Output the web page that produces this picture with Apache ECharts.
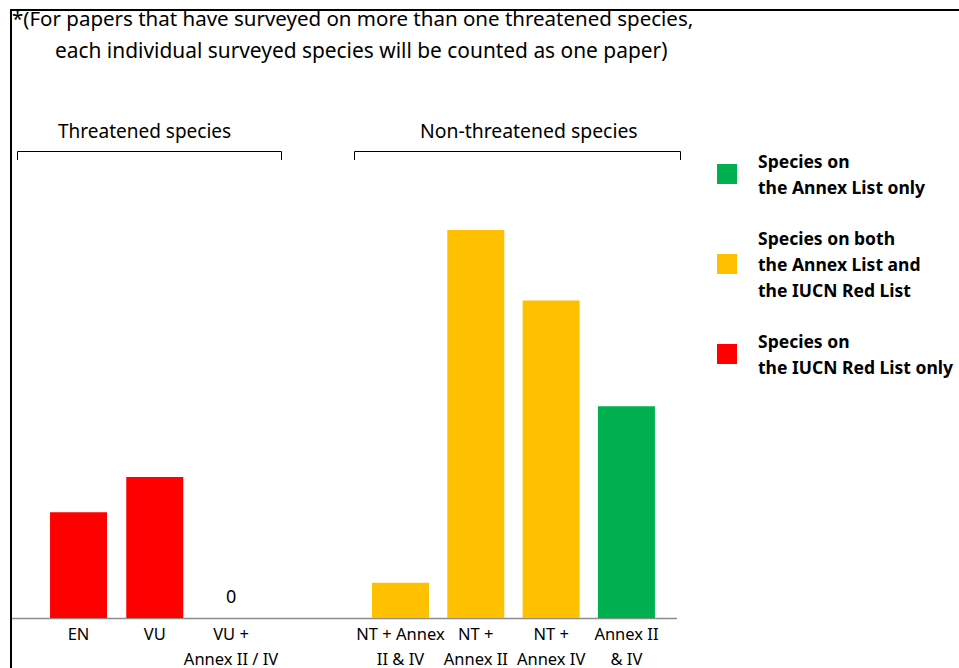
<!DOCTYPE html>
<html>
<head>
<meta charset="utf-8">
<script src="https://cdn.jsdelivr.net/npm/echarts@6/dist/echarts.min.js"></script>
<style>
  html, body { margin: 0; padding: 0; background: #fff; }
  #chart { width: 959px; height: 668px; }
</style>
</head>
<body>
<div id="chart"></div>
<script>
// ----- data -----
// two groups of categories, each drawn on its own grid
var threatCats = ['EN', 'VU', 'VU +\nAnnex II / IV'];
var nonThreatCats = ['NT + Annex\nII & IV', 'NT +\nAnnex II', 'NT +\nAnnex IV', 'Annex II\n& IV'];
var redListOnly = [3, 4, 0];
var bothLists = [1, 11, 9, '-'];
var annexOnly = ['-', '-', '-', 6];
var legendNames = [
  'Species on\nthe Annex List only',
  'Species on both\nthe Annex List and\nthe IUCN Red List',
  'Species on\nthe IUCN Red List only'
];
var noteLines = [
  '*(For papers that have surveyed on more than one threatened species,',
  'each individual surveyed species will be counted as one paper)'
];
var groupNames = ['Threatened species', 'Non-threatened species'];

var font = 'Noto Sans';
var red = '#ff0000', yellow = '#ffc000', green = '#00b050';

function xAxisFor(idx, cats) {
  return {
    type: 'category',
    gridIndex: idx,
    data: cats,
    axisLine: { show: false },
    axisTick: { show: false },
    axisLabel: { color: '#000', fontSize: 16.5, lineHeight: 25, margin: 3, interval: 0 }
  };
}
function yAxisFor(idx) {
  return { type: 'value', gridIndex: idx, min: 0, max: 12.5, show: false };
}

var chart = echarts.init(document.getElementById('chart'), null, { renderer: 'svg' });
chart.setOption({
  animation: false,
  textStyle: { fontFamily: font },
  grid: [
    { left: 40.4, width: 228.75, top: 177, bottom: 50, outerBoundsMode: 'none', containLabel: false },
    { left: 362.8, width: 301.3, top: 177, bottom: 50, outerBoundsMode: 'none', containLabel: false }
  ],
  legend: {
    orient: 'vertical',
    left: 717,
    top: 148,
    padding: 0,
    itemWidth: 20,
    itemHeight: 20,
    itemGap: 25,
    icon: 'rect',
    data: legendNames,
    textStyle: { fontFamily: font, fontSize: 17.5, fontWeight: 'bold', color: '#000', lineHeight: 26, padding: [0, 0, 0, 16] }
  },
  xAxis: [xAxisFor(0, threatCats), xAxisFor(1, nonThreatCats)],
  yAxis: [yAxisFor(0), yAxisFor(1)],
  series: [{
    name: legendNames[0],
    type: 'bar',
    xAxisIndex: 1,
    yAxisIndex: 1,
    data: annexOnly,
    barWidth: 57,
    barGap: '-100%',
    itemStyle: { color: green }
  }, {
    name: legendNames[1],
    type: 'bar',
    xAxisIndex: 1,
    yAxisIndex: 1,
    data: bothLists,
    barWidth: 57,
    barGap: '-100%',
    itemStyle: { color: yellow }
  }, {
    name: legendNames[2],
    type: 'bar',
    xAxisIndex: 0,
    yAxisIndex: 0,
    data: redListOnly,
    barWidth: 57,
    itemStyle: { color: red },
    label: {
      show: true,
      position: 'top',
      distance: 13,
      color: '#000',
      fontSize: 18,
      formatter: function(p) { return p.value === 0 ? '0' : ''; }
    }
  }],
  graphic: [
    // frame
    { type: 'line', shape: { x1: 10, y1: 10, x2: 959, y2: 10 }, style: { stroke: '#000', lineWidth: 2 } },
    { type: 'line', shape: { x1: 11, y1: 9, x2: 11, y2: 668 }, style: { stroke: '#000', lineWidth: 2 } },
    // baseline
    { type: 'line', shape: { x1: 12, y1: 618.5, x2: 677, y2: 618.5 }, style: { stroke: '#8c8c8c', lineWidth: 1.5 } },
    // note
    { type: 'text', left: 12, top: 7, style: { text: noteLines[0], font: '20.5px "Noto Sans"', fill: '#000' } },
    { type: 'text', left: 55, top: 39, style: { text: noteLines[1], font: '20.9px "Noto Sans"', fill: '#000' } },
    // group labels + brackets
    { type: 'text', left: 58, top: 121, style: { text: groupNames[0], font: '19px "Noto Sans"', fill: '#000' } },
    { type: 'text', left: 420, top: 121, style: { text: groupNames[1], font: '19.4px "Noto Sans"', fill: '#000' } },
    { type: 'polyline', shape: { points: [[17.5, 160], [17.5, 151.5], [281.5, 151.5], [281.5, 160]] }, style: { stroke: '#000', lineWidth: 1, fill: null } },
    { type: 'polyline', shape: { points: [[354.5, 160], [354.5, 151.5], [680.5, 151.5], [680.5, 160]] }, style: { stroke: '#000', lineWidth: 1, fill: null } }
  ]
});
</script>
</body>
</html>
